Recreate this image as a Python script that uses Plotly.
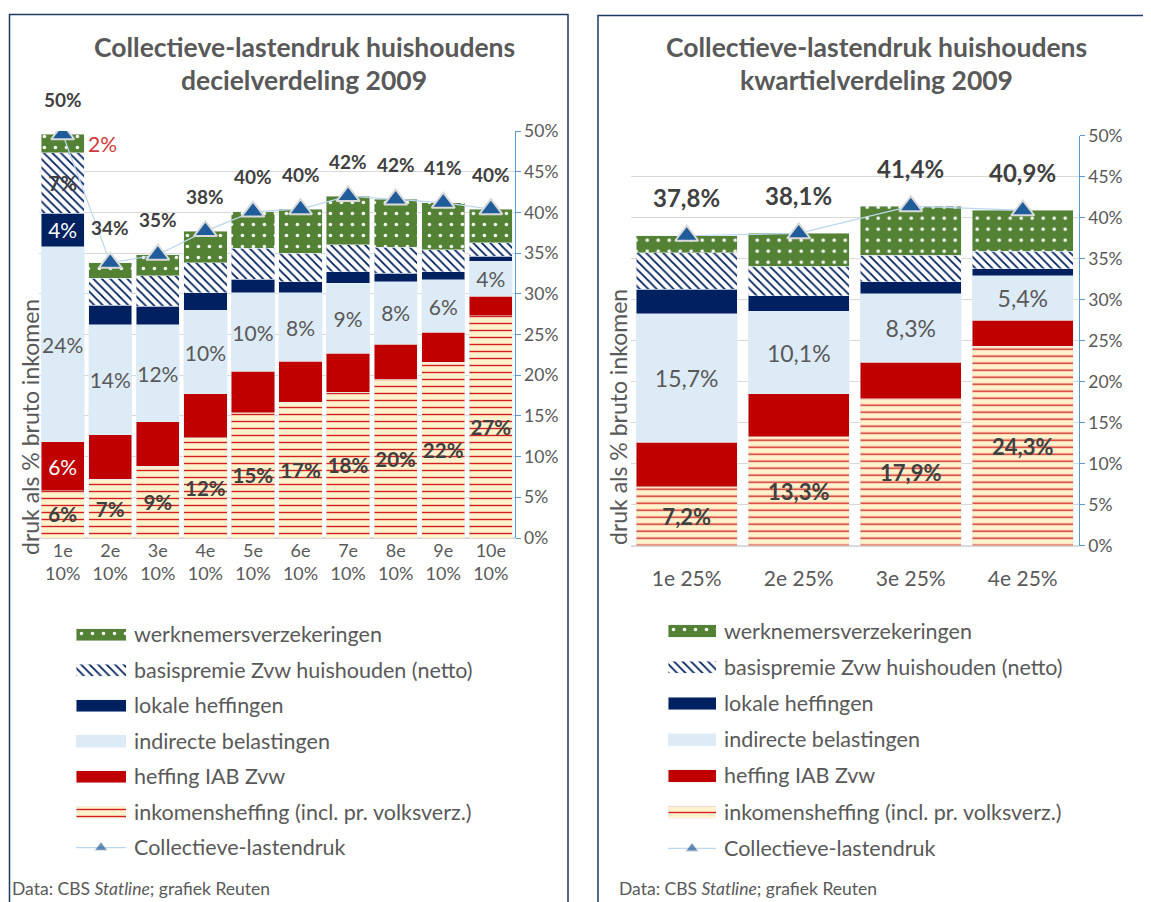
import plotly.graph_objects as go

W, H = 1151, 902
OFF = 8  # the page body adds an 8px margin; positions below are page pixels


def px(x):
    return (x - OFF) / W


def py(y):
    return 1 - (y - OFF) / H


# ---------------- data ----------------
deciles = ["1e<br>10%", "2e<br>10%", "3e<br>10%", "4e<br>10%", "5e<br>10%",
           "6e<br>10%", "7e<br>10%", "8e<br>10%", "9e<br>10%", "10e<br>10%"]
dec_inkomensheffing = [5.8, 7.2, 8.8, 12.3, 15.4, 16.7, 17.9, 19.5, 21.6, 27.3]
dec_heffing_iab = [6.0, 5.5, 5.5, 5.4, 5.1, 5.0, 4.8, 4.3, 3.7, 2.4]
dec_indirect = [24.0, 13.5, 11.9, 10.3, 9.6, 8.4, 8.6, 7.7, 6.4, 4.3]
dec_lokale = [4.1, 2.4, 2.3, 2.1, 1.7, 1.4, 1.4, 1.0, 1.0, 0.6]
dec_basispremie = [7.4, 3.3, 3.7, 3.7, 3.8, 3.5, 3.3, 3.2, 2.7, 1.7]
dec_werknemers = [2.3, 1.9, 2.6, 3.9, 4.5, 5.4, 6.0, 5.9, 5.8, 4.1]

kwartielen = ["1e 25%", "2e 25%", "3e 25%", "4e 25%"]
kw_inkomensheffing = [7.2, 13.3, 17.9, 24.3]
kw_heffing_iab = [5.4, 5.2, 4.5, 3.2]
kw_indirect = [15.7, 10.1, 8.3, 5.4]
kw_lokale = [3.0, 1.9, 1.5, 0.9]
kw_basispremie = [4.4, 3.6, 3.2, 2.1]
kw_werknemers = [2.1, 4.0, 6.0, 5.0]

series_names = ["werknemersverzekeringen", "basispremie Zvw huishouden (netto)",
                "lokale heffingen", "indirecte belastingen", "heffing IAB Zvw",
                "inkomensheffing (incl. pr. volksverz.)"]
line_name = "Collectieve-lastendruk"

# ---------------- styles ----------------
FONT = "Lato, 'Open Sans', sans-serif"
GRAY = "#595959"
DARK = "#404040"
GREEN = "#548235"
NAVY = "#002060"
LIGHTBLUE = "#DDEBF7"
RED = "#C00000"
CREAM = "#FFF2CC"
TRI = "#1F5C99"

styles = {
    "werknemersverzekeringen": dict(color=GREEN, pattern=dict(shape=".", bgcolor=GREEN, fgcolor="white", size=11, solidity=0.08, fillmode="replace")),
    "basispremie Zvw huishouden (netto)": dict(color="white", pattern=dict(shape="\\", bgcolor="white", fgcolor=NAVY, size=6, solidity=0.3, fillmode="replace")),
    "lokale heffingen": dict(color=NAVY),
    "indirecte belastingen": dict(color=LIGHTBLUE),
    "heffing IAB Zvw": dict(color=RED),
    "inkomensheffing (incl. pr. volksverz.)": dict(color=CREAM, pattern=dict(shape="-", bgcolor=CREAM, fgcolor="#D02020", size=7, solidity=0.2, fillmode="replace")),
}


def pct0(v):
    return f"{v:.0f}%"


def pct1(v):
    return f"{v:.1f}%".replace(".", ",")


fig = go.Figure()

# ---------------- left chart (deciles) ----------------
dec_stack = [
    ("inkomensheffing (incl. pr. volksverz.)", dec_inkomensheffing,
     [pct0(v) for v in dec_inkomensheffing], DARK, True),
    ("heffing IAB Zvw", dec_heffing_iab,
     [pct0(dec_heffing_iab[0])] + [""] * 9, "white", False),
    ("indirecte belastingen", dec_indirect,
     [pct0(v) for v in dec_indirect], GRAY, False),
    ("lokale heffingen", dec_lokale,
     [pct0(dec_lokale[0])] + [""] * 9, "white", False),
    ("basispremie Zvw huishouden (netto)", dec_basispremie,
     [pct0(dec_basispremie[0])] + [""] * 9, DARK, True),
    ("werknemersverzekeringen", dec_werknemers, [""] * 10, DARK, False),
]
for name, vals, txt, tcol, bold in dec_stack:
    fig.add_trace(go.Bar(
        x=deciles, y=vals, name=name, width=0.91, marker=styles[name],
        text=txt, texttemplate="<b>%{text}</b>" if bold else "%{text}",
        textposition="inside", insidetextanchor="middle", textangle=0,
        constraintext="none", textfont=dict(size=21 if not bold else 20.5, color=tcol, family=FONT),
        showlegend=False, xaxis="x", yaxis="y", hoverinfo="skip"))

dec_total = [sum(t) for t in zip(dec_inkomensheffing, dec_heffing_iab, dec_indirect,
                                 dec_lokale, dec_basispremie, dec_werknemers)]
fig.add_trace(go.Scatter(
    x=deciles, y=dec_total, mode="lines+markers", name=line_name,
    line=dict(color="#BDD7EE", width=1.2),
    marker=dict(symbol="triangle-up", size=20, color=TRI, line=dict(color="#D9D9D9", width=2)),
    showlegend=False, xaxis="x", yaxis="y", hoverinfo="skip"))

# ---------------- right chart (quartiles) ----------------
kw_stack = [
    ("inkomensheffing (incl. pr. volksverz.)", kw_inkomensheffing,
     [pct1(v) for v in kw_inkomensheffing], DARK, True),
    ("heffing IAB Zvw", kw_heffing_iab, [""] * 4, "white", False),
    ("indirecte belastingen", kw_indirect, [pct1(v) for v in kw_indirect], GRAY, False),
    ("lokale heffingen", kw_lokale, [""] * 4, "white", False),
    ("basispremie Zvw huishouden (netto)", kw_basispremie, [""] * 4, DARK, False),
    ("werknemersverzekeringen", kw_werknemers, [""] * 4, DARK, False),
]
for name, vals, txt, tcol, bold in kw_stack:
    fig.add_trace(go.Bar(
        x=kwartielen, y=vals, name=name, width=0.905, marker=styles[name],
        text=txt, texttemplate="<b>%{text}</b>" if bold else "%{text}",
        textposition="inside", insidetextanchor="middle", textangle=0,
        constraintext="none", textfont=dict(size=23 if not bold else 22, color=tcol, family=FONT),
        showlegend=False, xaxis="x2", yaxis="y2", hoverinfo="skip"))

kw_total = [sum(t) for t in zip(kw_inkomensheffing, kw_heffing_iab, kw_indirect,
                                kw_lokale, kw_basispremie, kw_werknemers)]
fig.add_trace(go.Scatter(
    x=kwartielen, y=kw_total, mode="lines+markers", name=line_name,
    line=dict(color="#BDD7EE", width=1.2),
    marker=dict(symbol="triangle-up", size=20, color=TRI, line=dict(color="#D9D9D9", width=2)),
    showlegend=False, xaxis="x2", yaxis="y2", hoverinfo="skip"))

# ---------------- legends drawn as small swatch subplots ----------------
legend_items = series_names + [line_name]
for xa, ya in (("x3", "y3"), ("x4", "y4")):
    for name in series_names:
        fig.add_trace(go.Bar(
            x=[1], y=[name], orientation="h", width=0.34, marker=styles[name],
            showlegend=False, xaxis=xa, yaxis=ya, hoverinfo="skip"))
    fig.add_trace(go.Scatter(
        x=[0, 0.5, 1], y=[line_name] * 3, mode="lines+markers",
        line=dict(color="#BDD7EE", width=1.2),
        marker=dict(symbol="triangle-up", size=[0, 11, 0], color=TRI,
                    line=dict(color="#D9D9D9", width=1)),
        showlegend=False, xaxis=xa, yaxis=ya, hoverinfo="skip"))

# ---------------- annotations ----------------
ann = []
for cat, tot in zip(deciles, dec_total):
    ann.append(dict(x=cat, y=tot, xref="x", yref="y", yshift=35, showarrow=False,
                    xanchor="center", yanchor="middle",
                    text=f"<b>{pct0(tot)}</b>", font=dict(size=19, color=DARK)))
for cat, tot in zip(kwartielen, kw_total):
    ann.append(dict(x=cat, y=tot, xref="x2", yref="y2", yshift=38, showarrow=False,
                    xanchor="center", yanchor="middle",
                    text=f"<b>{pct1(tot)}</b>", font=dict(size=24, color=DARK)))
# red label for first decile werknemersverzekeringen
w_mid = dec_total[0] - dec_werknemers[0] / 2
ann.append(dict(x=deciles[0], y=w_mid, xref="x", yref="y", xshift=40, showarrow=False,
                xanchor="center", yanchor="middle",
                text=pct0(dec_werknemers[0]), font=dict(size=21, color="#D03A3A")))

# titles
for cx, sub in ((304, "decielverdeling 2009"), (876, "kwartielverdeling 2009")):
    ann.append(dict(x=px(cx), y=py(47), xref="paper", yref="paper", showarrow=False,
                    xanchor="center", yanchor="middle",
                    text="<b>Collectieve-lastendruk huishoudens</b>",
                    font=dict(size=26.5, color=GRAY)))
    ann.append(dict(x=px(cx), y=py(80), xref="paper", yref="paper", showarrow=False,
                    xanchor="center", yanchor="middle",
                    text=f"<b>{sub}</b>", font=dict(size=26.5, color=GRAY)))
# axis titles
for cx, cy in ((30, 427), (618, 417)):
    ann.append(dict(x=px(cx), y=py(cy), xref="paper", yref="paper", showarrow=False,
                    xanchor="center", yanchor="middle",
                    text="druk als % bruto inkomen", textangle=-90,
                    font=dict(size=23, color=GRAY)))
# footers
for fx in (10, 617):
    ann.append(dict(x=px(fx), y=py(888), xref="paper", yref="paper", showarrow=False,
                    xanchor="left", yanchor="middle",
                    text="Data: CBS <i>Statline</i>; grafiek Reuten",
                    font=dict(size=17.5, color=GRAY)))

shapes = [
    dict(type="rect", xref="paper", yref="paper", x0=px(9.5), x1=px(568), y0=py(14.5), y1=py(925),
         line=dict(color="#1F3864", width=1.5)),
    dict(type="rect", xref="paper", yref="paper", x0=px(598), x1=px(1175), y0=py(15.5), y1=py(925),
         line=dict(color="#1F3864", width=1.5)),
]

yax_common = dict(range=[0, 50], dtick=5, ticksuffix="%", side="right", showgrid=True,
                  gridcolor="#D9D9D9", gridwidth=1, zeroline=True, zerolinecolor="#D9D9D9",
                  showline=True, linecolor="#5B9BD5", linewidth=1, ticks="outside",
                  ticklen=5, tickcolor="#5B9BD5", tickfont=dict(size=17.5, color=GRAY),
                  fixedrange=True, automargin=False)

legend_y = dict(type="category", categoryorder="array", categoryarray=legend_items,
                autorange="reversed", side="right", showgrid=False, zeroline=False,
                showline=False, ticks="", ticklabelstandoff=7, automargin=False,
                tickfont=dict(size=21.5, color=GRAY))

fig.update_layout(
    width=W, height=H, margin=dict(l=0, r=0, t=0, b=0, pad=0, autoexpand=False),
    autosize=False,
    paper_bgcolor="white", plot_bgcolor="white",
    font=dict(family=FONT, color=GRAY),
    barmode="stack", showlegend=False,
    xaxis=dict(domain=[px(38.9), px(514.6)], anchor="y", range=[-0.5, 9.5], showgrid=False,
               showline=False, ticks="", tickfont=dict(size=18, color=GRAY), automargin=False),
    yaxis=dict(domain=[py(538), py(131)], anchor="x", **yax_common),
    xaxis2=dict(domain=[px(630.7), px(1078.8)], anchor="y2", range=[-0.5, 3.5], showgrid=False,
                showline=False, ticks="outside", ticklen=14, tickcolor="rgba(0,0,0,0)",
                tickfont=dict(size=21, color=GRAY), automargin=False),
    yaxis2=dict(domain=[py(545.7), py(135.7)], anchor="x2", **yax_common),
    xaxis3=dict(domain=[px(76), px(126)], anchor="y3", range=[0, 1], visible=False),
    yaxis3=dict(domain=[py(867), py(617)], anchor="x3", **legend_y),
    xaxis4=dict(domain=[px(668), px(716)], anchor="y4", range=[0, 1], visible=False),
    yaxis4=dict(domain=[py(868), py(613)], anchor="x4", **legend_y),
    annotations=ann, shapes=shapes,
)

fig.write_html("out.html")
